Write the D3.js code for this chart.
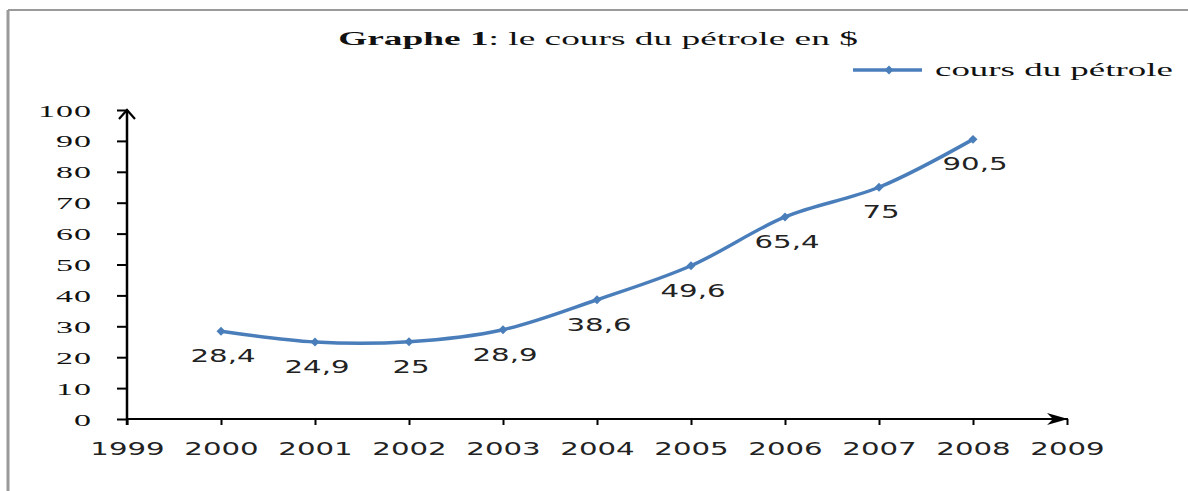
<!DOCTYPE html>
<html>
<head>
<meta charset="utf-8">
<script src="https://cdn.jsdelivr.net/npm/d3@7"></script>
<style>
  body { margin: 0; background: #fff; }
  svg { display: block; }
</style>
</head>
<body>
<svg width="1188" height="491"></svg>
<script>
// data
var years = [2000, 2001, 2002, 2003, 2004, 2005, 2006, 2007, 2008];
var prices = [28.4, 24.9, 25, 28.9, 38.6, 49.6, 65.4, 75, 90.5];
var priceLabels = ["28,4", "24,9", "25", "28,9", "38,6", "49,6", "65,4", "75", "90,5"];
var xTicks = [1999, 2000, 2001, 2002, 2003, 2004, 2005, 2006, 2007, 2008, 2009];
var yTicks = [0, 10, 20, 30, 40, 50, 60, 70, 80, 90, 100];

var svg = d3.select("svg"),
    width = +svg.attr("width"),
    height = +svg.attr("height");

var blue = "#4a7ebb";
var serif = "'Liberation Serif', 'Times New Roman', serif";
var sans = "'DejaVu Sans', Verdana, sans-serif";

var x = d3.scaleLinear().domain([1999, 2009]).range([127, 1067]);
var y = d3.scaleLinear().domain([0, 100]).range([419, 110]);

// frame (gray border on top / left)
svg.append("line")
    .attr("x1", 8).attr("x2", width).attr("y1", 10).attr("y2", 10)
    .attr("stroke", "#9a9a9a").attr("stroke-width", 2);
svg.append("line")
    .attr("x1", 8).attr("x2", 8).attr("y1", 10).attr("y2", height)
    .attr("stroke", "#9a9a9a").attr("stroke-width", 3);

// stretch a text horizontally to a wanted width, keeping its anchor
function fitWidth(sel, w) {
    var node = sel.node();
    var cur = node.getComputedTextLength();
    var sx = w / cur;
    var tx = +sel.attr("data-x"), ty = +sel.attr("data-y");
    sel.attr("transform", "translate(" + tx + "," + ty + ") scale(" + sx + ",1)");
}

// title
var title = svg.append("text")
    .attr("data-x", 598).attr("data-y", 45)
    .attr("text-anchor", "middle")
    .style("font-family", serif)
    .style("font-size", "19px")
    .attr("fill", "#111");
title.append("tspan").attr("font-weight", "bold").text("Graphe 1");
title.append("tspan").text(":  le cours du pétrole en $");
fitWidth(title, 520);

// legend
var legend = svg.append("g");
legend.append("line")
    .attr("x1", 853).attr("x2", 922).attr("y1", 70).attr("y2", 70)
    .attr("stroke", blue).attr("stroke-width", 3.5);
legend.append("path")
    .attr("d", d3.symbol(d3.symbolSquare).size(40)())
    .attr("transform", "translate(889,70) rotate(45)")
    .attr("fill", blue);
var legText = legend.append("text")
    .attr("data-x", 935).attr("data-y", 76)
    .style("font-family", serif)
    .style("font-size", "19px")
    .attr("fill", "#111")
    .text("cours du pétrole");
fitWidth(legText, 238);

// arrow markers
var defs = svg.append("defs");
defs.append("marker")
    .attr("id", "arrowY")
    .attr("viewBox", "0 0 20 20")
    .attr("refX", 10).attr("refY", 2)
    .attr("markerWidth", 20).attr("markerHeight", 20)
    .attr("markerUnits", "userSpaceOnUse")
    .attr("orient", "0")
  .append("path")
    .attr("d", "M2,11 L10,2 L18,11")
    .attr("fill", "none").attr("stroke", "#000").attr("stroke-width", 2.2);
defs.append("marker")
    .attr("id", "arrowX")
    .attr("viewBox", "0 0 24 14")
    .attr("refX", 22).attr("refY", 7)
    .attr("markerWidth", 24).attr("markerHeight", 14)
    .attr("markerUnits", "userSpaceOnUse")
    .attr("orient", "0")
  .append("path")
    .attr("d", "M1,1 L22,7 L1,13 L7,7 Z")
    .attr("fill", "#000");

// y axis
var yAxis = svg.append("g")
    .attr("transform", "translate(" + x(1999) + ",0)")
    .call(d3.axisLeft(y).tickValues(yTicks).tickSize(10).tickSizeOuter(0).tickFormat(d3.format("d")));
yAxis.select(".domain").remove();
yAxis.selectAll(".tick line").attr("stroke", "#000").attr("stroke-width", 2);
yAxis.selectAll(".tick text")
    .attr("x", null).attr("dy", null)
    .attr("transform", "translate(-35,6) scale(2,1)")
    .attr("text-anchor", "end")
    .style("font-family", serif)
    .style("font-size", "17px")
    .style("letter-spacing", "0.5px")
    .attr("fill", "#111");

// x axis
var xAxis = svg.append("g")
    .attr("transform", "translate(0," + y(0) + ")")
    .call(d3.axisBottom(x).tickValues(xTicks).tickSize(6).tickSizeOuter(0).tickFormat(d3.format("d")));
xAxis.select(".domain").remove();
xAxis.selectAll(".tick line").attr("stroke", "#000").attr("stroke-width", 2);
xAxis.selectAll(".tick text")
    .attr("y", null).attr("dy", null)
    .attr("transform", "translate(0,36) scale(1.72,1)")
    .attr("text-anchor", "middle")
    .style("font-family", sans)
    .style("font-size", "17px")
    .attr("fill", "#222");

// axis lines with arrows
svg.append("line")
    .attr("x1", x(1999)).attr("x2", x(1999))
    .attr("y1", y(0) + 6).attr("y2", y(100))
    .attr("stroke", "#000").attr("stroke-width", 2.5)
    .attr("marker-end", "url(#arrowY)");
svg.append("line")
    .attr("x1", x(1999)).attr("x2", x(2009) + 1)
    .attr("y1", y(0)).attr("y2", y(0))
    .attr("stroke", "#000").attr("stroke-width", 2)
    .attr("marker-end", "url(#arrowX)");

// the series
var pts = years.map(function (d, i) { return { year: d, value: prices[i], label: priceLabels[i] }; });

var line = d3.line()
    .x(function (d) { return x(d.year); })
    .y(function (d) { return y(d.value); })
    .curve(d3.curveCatmullRom.alpha(0.5));

svg.append("path")
    .datum(pts)
    .attr("d", line)
    .attr("fill", "none")
    .attr("stroke", blue)
    .attr("stroke-width", 3.5)
    .attr("stroke-linejoin", "round");

svg.append("g").selectAll("path")
    .data(pts)
    .enter().append("path")
    .attr("d", d3.symbol(d3.symbolSquare).size(40)())
    .attr("transform", function (d) { return "translate(" + x(d.year) + "," + y(d.value) + ") rotate(45)"; })
    .attr("fill", blue);

// data labels
svg.append("g").selectAll("text")
    .data(pts)
    .enter().append("text")
    .attr("transform", function (d) { return "translate(" + (x(d.year) + 2) + "," + (y(d.value) + 31) + ") scale(1.72,1)"; })
    .attr("text-anchor", "middle")
    .style("font-family", sans)
    .style("font-size", "17px")
    .attr("fill", "#222")
    .text(function (d) { return d.label; });
</script>
</body>
</html>
